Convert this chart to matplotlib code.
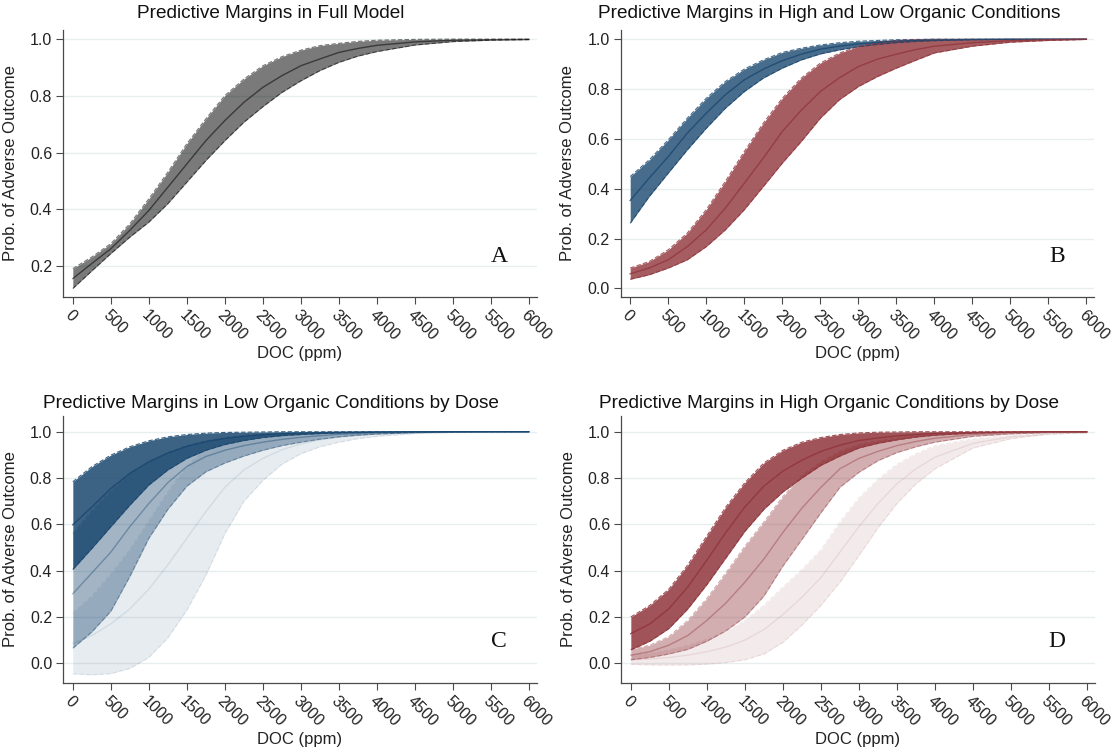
import matplotlib
matplotlib.use("Agg")
import matplotlib.pyplot as plt
import numpy as np

plt.rcParams["font.family"] = ["Liberation Sans", "DejaVu Sans"]

# DOC concentration (ppm) at which the margins are evaluated
doc = [0, 250, 500, 750, 1000, 1250, 1500, 1750, 2000, 2250, 2500, 2750,
       3000, 3250, 3500, 3750, 4000, 4500, 5000, 5500, 6000]

# Panel A: full model
full_mean = [.156, .209, .261, .326, .396, .478, .560, .642, .713, .777, .830, .871,
             .906, .930, .953, .967, .978, .990, .996, .998, .999]
full_lo = [.121, .183, .244, .302, .355, .420, .496, .572, .642, .707, .762, .812,
           .853, .889, .918, .940, .956, .979, .991, .996, .998]
full_hi = [.191, .232, .279, .349, .437, .531, .631, .719, .801, .859, .906, .938,
           .961, .977, .985, .992, .996, .999, 1.0, 1.0, 1.0]

# Panel B: low organic (blue) and high organic (red)
low_mean = [.353, .443, .529, .623, .703, .777, .837, .880, .914, .940, .960, .972,
            .981, .987, .992, .995, .997, .999, 1.0, 1.0, 1.0]
low_lo = [.262, .369, .463, .556, .643, .723, .790, .844, .884, .917, .941, .957,
          .970, .979, .986, .991, .994, .998, .999, 1.0, 1.0]
low_hi = [.449, .516, .596, .683, .763, .830, .880, .917, .947, .964, .977, .986,
          .992, .995, .998, .999, 1.0, 1.0, 1.0, 1.0, 1.0]

high_mean = [.059, .082, .115, .168, .235, .322, .422, .523, .630, .715, .790, .845,
             .890, .920, .940, .958, .972, .986, .994, .998, 1.0]
high_lo = [.037, .055, .082, .115, .168, .235, .316, .409, .503, .590, .683, .757,
           .810, .850, .884, .915, .945, .972, .988, .995, .999]
high_hi = [.082, .108, .155, .222, .316, .429, .549, .663, .763, .844, .904, .944,
           .971, .987, .995, .998, 1.0, 1.0, 1.0, 1.0, 1.0]

# Panel C: low organic conditions by dose (high, medium, low)
c_hi_mean = [.598, .675, .755, .820, .870, .908, .937, .957, .971, .980, .987, .991,
             .994, .996, .997, .998, .999, 1.0, 1.0, 1.0, 1.0]
c_hi_lo = [.405, .496, .590, .683, .770, .835, .885, .920, .945, .962, .975, .983,
           .988, .992, .995, .996, .998, .999, 1.0, 1.0, 1.0]
c_hi_hi = [.784, .849, .899, .935, .961, .978, .988, .994, .997, .998, .999, 1.0,
           1.0, 1.0, 1.0, 1.0, 1.0, 1.0, 1.0, 1.0, 1.0]

c_md_mean = [.300, .390, .480, .590, .690, .780, .850, .893, .920, .940, .955, .967,
             .976, .983, .989, .992, .995, .998, .999, 1.0, 1.0]
c_md_lo = [.065, .135, .225, .375, .540, .665, .765, .827, .865, .895, .920, .940,
           .955, .968, .978, .985, .990, .996, .999, 1.0, 1.0]
c_md_hi = [.560, .660, .745, .820, .870, .910, .940, .960, .975, .984, .990, .994,
           .997, .998, .999, 1.0, 1.0, 1.0, 1.0, 1.0, 1.0]

c_lw_mean = [.085, .120, .170, .235, .320, .425, .540, .655, .760, .835, .885, .922,
             .948, .965, .977, .985, .990, .996, .998, .999, 1.0]
c_lw_lo = [-.046, -.050, -.045, -.022, .025, .110, .230, .380, .560, .700, .790, .860,
           .905, .935, .955, .970, .980, .992, .997, .999, 1.0]
c_lw_hi = [.216, .290, .385, .490, .615, .740, .850, .930, .960, .970, .980, .984,
           .991, .995, .999, 1.0, 1.0, 1.0, 1.0, 1.0, 1.0]

# Panel D: high organic conditions by dose (high, medium, low)
d_hi_mean = [.128, .170, .235, .330, .445, .565, .675, .765, .830, .877, .915, .942,
             .962, .973, .982, .988, .993, .997, .999, 1.0, 1.0]
d_hi_lo = [.058, .095, .150, .235, .340, .455, .570, .665, .740, .800, .855, .895,
           .930, .950, .965, .977, .985, .994, .998, 1.0, 1.0]
d_hi_hi = [.200, .250, .320, .425, .550, .675, .780, .865, .920, .955, .975, .988,
           .995, .998, .999, 1.0, 1.0, 1.0, 1.0, 1.0, 1.0]

d_md_mean = [.035, .050, .078, .120, .185, .260, .350, .450, .565, .670, .760, .840,
             .885, .915, .940, .958, .972, .988, .995, .998, .999]
d_md_lo = [.015, .025, .040, .060, .095, .140, .200, .290, .420, .535, .650, .760,
           .825, .875, .910, .935, .955, .980, .991, .996, .998]
d_md_hi = [.060, .078, .115, .185, .280, .390, .505, .610, .720, .810, .870, .915,
           .945, .960, .972, .982, .990, .997, .999, 1.0, 1.0]

d_lw_mean = [.015, .018, .025, .035, .050, .070, .100, .145, .210, .285, .370, .480,
             .590, .690, .775, .840, .890, .950, .978, .990, .996]
d_lw_lo = [-.005, -.007, -.008, -.007, -.004, .003, .015, .040, .090, .165, .250, .350,
           .465, .585, .690, .775, .840, .930, .970, .990, .995]
d_lw_hi = [.035, .043, .058, .077, .104, .137, .185, .250, .330, .405, .490, .610,
           .715, .795, .860, .905, .940, .970, .986, .990, .997]

titles = ["Predictive Margins in Full Model",
          "Predictive Margins in High and Low Organic Conditions",
          "Predictive Margins in Low Organic Conditions by Dose",
          "Predictive Margins in High Organic Conditions by Dose"]
panel_letters = ["A", "B", "C", "D"]
x_ticks = list(range(0, 6001, 500))

NAVY = "#1a476f"
MAROON = "#90353b"
GRAY = "#000000"
GRID = "#e7eeef"
AXC = "#4a4a4a"

fig = plt.figure(figsize=(11.13, 7.53), dpi=100)

W, H = 1113.0, 753.0
ax_w = 473.3 / W
ax_h = 266.7 / H
axA = fig.add_axes([63.3 / W, 1 - 296.7 / H, ax_w, ax_h])
axB = fig.add_axes([620.7 / W, 1 - 296.7 / H, ax_w, ax_h])
axC = fig.add_axes([63.3 / W, 1 - 682.7 / H, ax_w, ax_h])
axD = fig.add_axes([621.3 / W, 1 - 682.7 / H, ax_w, ax_h])


def band(ax, lo, mid, hi, color, alpha):
    ax.fill_between(doc, lo, hi, color=color, alpha=alpha, lw=0, zorder=2)
    for edge in (lo, hi):
        ax.plot(doc, edge, color=color, alpha=alpha, lw=0.8,
                ls=(0, (4, 2)), zorder=3)
    ax.plot(doc, mid, color=color, alpha=alpha, lw=1.0, zorder=4)


def style(ax, ylim, yticks, title, letter, letter_y, title_x, title_y):
    ax.set_xlim(-125, 6100)
    ax.set_ylim(*ylim)
    ax.set_yticks(yticks)
    ax.set_yticklabels([f"{v:.1f}" for v in yticks])
    ax.set_xticks(x_ticks)
    ax.set_xticklabels([str(v) for v in x_ticks], rotation=-45,
                       ha="left", va="top", rotation_mode="anchor")
    ax.tick_params(axis="both", labelsize=11.5, colors="#222222",
                   length=5, width=0.8, color=AXC)
    ax.tick_params(axis="x", pad=3)
    ax.tick_params(axis="y", pad=3)
    for s in ("top", "right"):
        ax.spines[s].set_visible(False)
    for s in ("left", "bottom"):
        ax.spines[s].set_color(AXC)
        ax.spines[s].set_linewidth(0.9)
    ax.grid(axis="y", color=GRID, lw=1.0, zorder=0)
    ax.set_axisbelow(True)
    ax.set_ylabel("Prob. of Adverse Outcome", fontsize=12, color="#222222")
    ax.yaxis.set_label_coords(-0.096, 0.5)
    ax.text(0.5, -0.213, "DOC (ppm)", transform=ax.transAxes, ha="center",
            va="center", fontsize=12, color="#222222")
    fig.text(title_x, title_y, title, ha="center", va="center",
             fontsize=13.7, color="#111111")
    ax.text(5610, letter_y, letter, ha="center", va="center",
            fontsize=17, family=["Liberation Serif", "DejaVu Serif"],
            color="#111111")


# Panel A
band(axA, full_lo, full_mean, full_hi, GRAY, 0.52)
style(axA, (0.092, 1.032), [0.2, 0.4, 0.6, 0.8, 1.0], titles[0],
      panel_letters[0], 0.232, 271 / W, 1 - 14 / H)

# Panel B
band(axB, low_lo, low_mean, low_hi, NAVY, 0.8)
band(axB, high_lo, high_mean, high_hi, MAROON, 0.8)
style(axB, (-0.033, 1.037), [0.0, 0.2, 0.4, 0.6, 0.8, 1.0], titles[1],
      panel_letters[1], 0.127, 829 / W, 1 - 14 / H)

# Panel C
band(axC, c_lw_lo, c_lw_mean, c_lw_hi, NAVY, 0.1)
band(axC, c_md_lo, c_md_mean, c_md_hi, NAVY, 0.4)
band(axC, c_hi_lo, c_hi_mean, c_hi_hi, NAVY, 0.85)
style(axC, (-0.084, 1.068), [0.0, 0.2, 0.4, 0.6, 0.8, 1.0], titles[2],
      panel_letters[2], 0.096, 271 / W, 1 - 403 / H)

# Panel D
band(axD, d_lw_lo, d_lw_mean, d_lw_hi, MAROON, 0.1)
band(axD, d_md_lo, d_md_mean, d_md_hi, MAROON, 0.4)
band(axD, d_hi_lo, d_hi_mean, d_hi_hi, MAROON, 0.85)
style(axD, (-0.084, 1.068), [0.0, 0.2, 0.4, 0.6, 0.8, 1.0], titles[3],
      panel_letters[3], 0.096, 829 / W, 1 - 403 / H)

fig.savefig("out.png", dpi=100)
